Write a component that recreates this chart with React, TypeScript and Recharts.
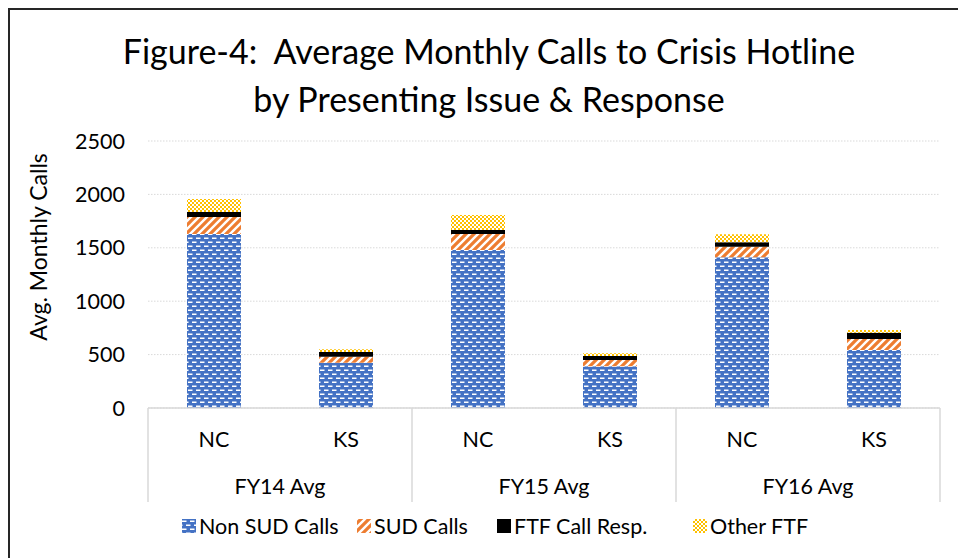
import { BarChart, Bar, XAxis, YAxis, CartesianGrid, Label } from 'recharts';

// chart data
const sites = ['NC', 'KS', 'NC', 'KS', 'NC', 'KS'];
const years = ['FY14 Avg', 'FY14 Avg', 'FY15 Avg', 'FY15 Avg', 'FY16 Avg', 'FY16 Avg'];
const nonSudCalls = [1630, 424, 1479, 390, 1411, 543];
const sudCalls = [158, 56, 150, 59, 99, 103];
const ftfCallResp = [47, 44, 38, 38, 41, 59];
const otherFtf = [122, 26, 140, 25, 75, 25];
const yTicks = [0, 500, 1000, 1500, 2000, 2500];

const data = sites.map((site, i) => ({
  site,
  year: years[i],
  nonSud: nonSudCalls[i],
  sud: sudCalls[i],
  ftf: ftfCallResp[i],
  other: otherFtf[i],
}));

const series = [
  { key: 'nonSud', name: 'Non SUD Calls', fill: 'url(#patNonSud)', w: 175 },
  { key: 'sud', name: 'SUD Calls', fill: 'url(#patSud)', w: 140 },
  { key: 'ftf', name: 'FTF Call Resp.', fill: '#000000', w: 196 },
  { key: 'other', name: 'Other FTF', fill: 'url(#patOther)', w: 120 },
];

const FONT = 'Lato, "Open Sans", sans-serif';
const GRID = '#d9d9d9';
const FS = 21.5;

const CategoryTick = (props: any) => {
  const { x, y, payload, index } = props;
  const half = payload?.offset ?? 66;
  const isFirst = index % 2 === 0;
  const isLast = index === data.length - 1;
  return (
    <g>
      <text x={x} y={y + 39} textAnchor="middle" fontSize={FS} fontFamily={FONT} fill="#000">
        {payload.value}
      </text>
      {isFirst && (
        <>
          <line x1={x - half} x2={x - half} y1={y} y2={y + 94} stroke={GRID} strokeWidth={1.5} />
          <text x={x + half} y={y + 86} textAnchor="middle" fontSize={FS} fontFamily={FONT} fill="#000">
            {data[index].year}
          </text>
        </>
      )}
      {isLast && <line x1={x + half} x2={x + half} y1={y} y2={y + 94} stroke={GRID} strokeWidth={1.5} />}
    </g>
  );
};

const Patterns = () => (
  <defs>
    <pattern id="patNonSud" width="8" height="8" patternUnits="userSpaceOnUse">
      <rect width="8" height="8" fill="#4472C4" />
      <rect x="0" y="1.5" width="4.5" height="1.5" fill="#fff" />
      <rect x="4" y="5.5" width="4.5" height="1.5" fill="#fff" />
      <rect x="-4" y="5.5" width="4.5" height="1.5" fill="#fff" />
    </pattern>
    <pattern id="patSud" width="8" height="8" patternUnits="userSpaceOnUse">
      <rect width="8" height="8" fill="#ED7D31" />
      <path d="M-2,2 L2,-2 M0,8 L8,0 M6,10 L10,6" stroke="#fff" strokeWidth="2.4" />
    </pattern>
    <pattern id="patOther" width="4" height="4" patternUnits="userSpaceOnUse">
      <rect width="4" height="4" fill="#FFC000" />
      <rect x="0" y="0" width="2" height="2" fill="#fff" />
      <rect x="2" y="2" width="2" height="2" fill="#fff" />
    </pattern>
  </defs>
);

export default function App() {
  return (
    <div style={{ position: 'fixed', left: 0, top: 0, width: 958, height: 558, overflow: 'hidden', background: '#fff', fontFamily: FONT }}>
      <div style={{ position: 'absolute', left: 8, top: 8, width: 1000, height: 600, border: '2px solid #262626' }} />
      <div style={{ position: 'absolute', left: 0, width: 978, top: 27, textAlign: 'center', fontSize: 34, lineHeight: '48px', color: '#000' }}>
        Figure-4:&nbsp; Average Monthly Calls to Crisis Hotline
        <br />
        by Presenting Issue &amp; Response
      </div>
      <div style={{ position: 'absolute', left: 0, top: 0 }}>
        <BarChart width={958} height={558} data={data} margin={{ top: 141, right: 18, left: 0, bottom: 0 }}>
          <Patterns />
          <CartesianGrid vertical={false} stroke={GRID} strokeDasharray="1.5 1.5" />
          <XAxis
            dataKey="site"
            height={150}
            axisLine={{ stroke: GRID, strokeWidth: 1.5 }}
            tickLine={false}
            tickSize={0}
            tickMargin={0}
            interval={0}
            tick={<CategoryTick />}
          />
          <YAxis
            width={148}
            domain={[0, 2500]}
            ticks={yTicks}
            axisLine={false}
            tickLine={false}
            tickSize={0}
            tickMargin={23}
            tick={{ fontSize: FS, fontFamily: FONT, fill: '#000' }}
          >
            <Label
              content={() => (
                <text x={47} y={247} transform="rotate(-90 47 247)" textAnchor="middle" fontSize={23} fontFamily={FONT} fill="#000">
                  Avg. Monthly Calls
                </text>
              )}
            />
          </YAxis>
          {series.map((s) => (
            <Bar key={s.key} dataKey={s.key} name={s.name} stackId="a" fill={s.fill} barSize={54} isAnimationActive={false} />
          ))}
        </BarChart>
      </div>
      <div style={{ position: 'absolute', top: 513, left: 182, display: 'flex', alignItems: 'center', fontSize: FS, color: '#000' }}>
        {series.map((s) => (
          <div key={s.key} style={{ display: 'flex', alignItems: 'center', width: s.w, whiteSpace: 'nowrap' }}>
            <svg width={14} height={14} style={{ marginRight: 3, flexShrink: 0 }}>
              <rect width={14} height={14} fill={s.fill} />
            </svg>
            <span>{s.name}</span>
          </div>
        ))}
      </div>
    </div>
  );
}
